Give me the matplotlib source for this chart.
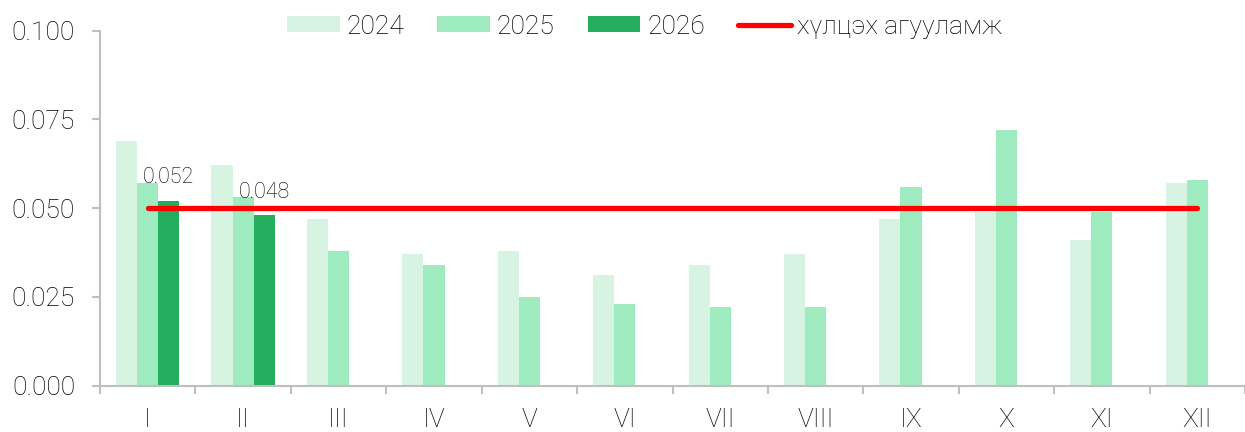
import matplotlib

matplotlib.use("Agg")

import matplotlib.pyplot as plt
import numpy as np
from matplotlib.ticker import FormatStrFormatter

months = ["I", "II", "III", "IV", "V", "VI", "VII", "VIII", "IX", "X", "XI", "XII"]
values_2024 = [0.069, 0.062, 0.047, 0.037, 0.038, 0.031, 0.034, 0.037, 0.047, 0.049, 0.041, 0.057]
values_2025 = [0.057, 0.053, 0.038, 0.034, 0.025, 0.023, 0.022, 0.022, 0.056, 0.072, 0.049, 0.058]
values_2026 = [0.052, 0.048]
target_value = 0.05
target_label = "хүлцэх агууламж"

COLOR_2024 = "#d7f4e3"
COLOR_2025 = "#9febc0"
COLOR_2026 = "#24ad5d"
AXIS_GRAY = "#bfbfbf"
TEXT_COLOR = "#000000"

plt.rcParams["font.family"] = ["Roboto", "DejaVu Sans"]
plt.rcParams["font.weight"] = "light"

fig = plt.figure(figsize=(12.45, 4.32), dpi=100)
ax = fig.add_axes([100 / 1245, 1 - 385.5 / 432, 1145 / 1245, 355 / 432])

x = np.arange(len(months))
width = 0.221

ax.bar(x - width, values_2024, width, color=COLOR_2024, label="2024")
ax.bar(x, values_2025, width, color=COLOR_2025, label="2025")
bars_2026 = ax.bar(x[: len(values_2026)] + width, values_2026, width, color=COLOR_2026, label="2026")
ax.bar_label(bars_2026, fmt="%.3f", padding=9, fontsize=15.5, color=TEXT_COLOR)

# target line runs from the first to the last month centre
ax.plot([x[0], x[-1]], [target_value, target_value], color="#ff0000", linewidth=3.8,
        solid_capstyle="round", label=target_label)

ax.set_xlim(-0.5, -0.5 + 1145 / 96.3)
ax.set_ylim(0, 0.1)
ax.set_yticks([0, 0.025, 0.05, 0.075, 0.1])
ax.yaxis.set_major_formatter(FormatStrFormatter("%.3f"))
ax.set_xticks(x)
ax.set_xticklabels(months)
ax.set_xticks(np.arange(-0.5, len(months) + 0.5, 1), minor=True)

for side in ("top", "right"):
    ax.spines[side].set_visible(False)
for side in ("left", "bottom"):
    ax.spines[side].set_color(AXIS_GRAY)
    ax.spines[side].set_linewidth(1.5)

ax.tick_params(axis="x", which="major", length=0, pad=16, labelsize=19, labelcolor=TEXT_COLOR)
ax.tick_params(axis="x", which="minor", length=6, width=1.5, color=AXIS_GRAY, direction="out")
ax.tick_params(axis="y", length=6, width=1.5, color=AXIS_GRAY, pad=12, labelsize=19,
               labelcolor=TEXT_COLOR)

handles, labels = ax.get_legend_handles_labels()
order = [1, 2, 3, 0]
fig.legend([handles[i] for i in order], [labels[i] for i in order],
           loc="center", bbox_to_anchor=(0.518, 0.938), ncol=4, frameon=False,
           fontsize=19, handlelength=2.0, handleheight=0.55, handletextpad=0.25,
           columnspacing=1.25, labelcolor=TEXT_COLOR)

fig.savefig("out.png", dpi=100)
